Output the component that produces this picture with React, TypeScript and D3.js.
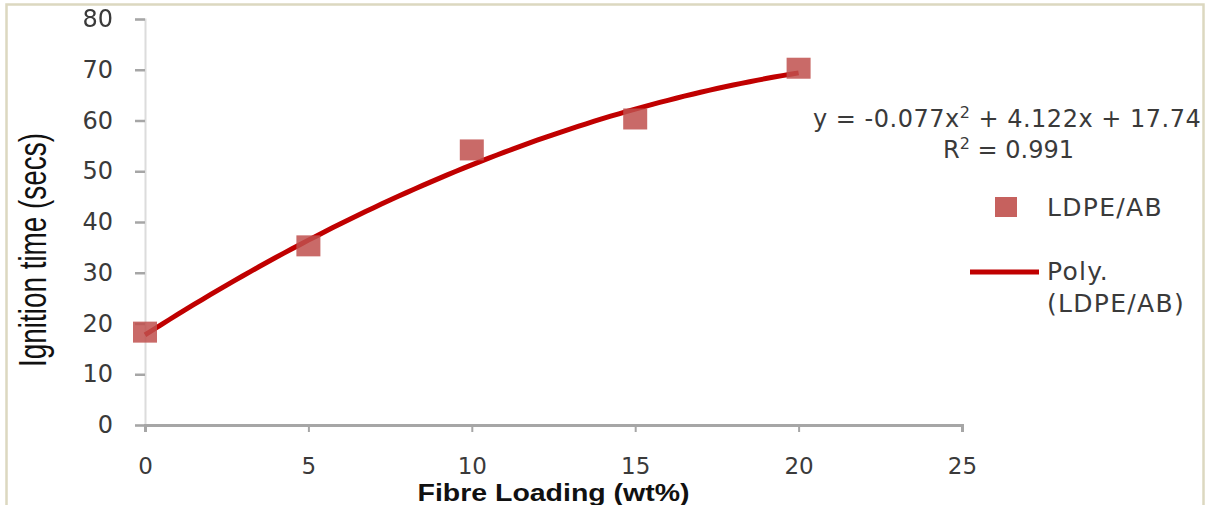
import React, { useEffect, useRef } from "react";
import * as d3 from "d3";

const fibreLoading = [0, 5, 10, 15, 20];
const ignitionTime = [18.3, 35.3, 54.2, 60.3, 70.3];
const polyCoeffs = [17.74, 4.122, -0.077];
const xTicks = [0, 5, 10, 15, 20, 25];
const yTicks = [0, 10, 20, 30, 40, 50, 60, 70, 80];
const seriesName = "LDPE/AB";

const W = 1209;
const H = 505;

const App = () => {
  const ref = useRef<SVGSVGElement>(null);

  useEffect(() => {
    const svg = d3.select(ref.current);
    svg.selectAll("*").remove();

    const x = d3.scaleLinear().domain([0, 25]).range([145, 962]);
    const y = d3.scaleLinear().domain([0, 80]).range([425, 19]);
    const font = "'DejaVu Sans', Verdana, sans-serif";
    const txt = "#3a3a3a";

    svg.append("rect")
      .attr("x", 6.5).attr("y", 4.5)
      .attr("width", 1197).attr("height", 520)
      .attr("fill", "#fff").attr("stroke", "#dcd8c0").attr("stroke-width", 2.5);

    // y axis
    const yAxis = svg.append("g").attr("transform", `translate(${x(0)},0)`)
      .call(d3.axisLeft(y).tickValues(yTicks).tickSize(10).tickPadding(22));
    yAxis.select(".domain").attr("stroke", "#dcdcdc").attr("stroke-width", 2);
    yAxis.selectAll(".tick line").attr("stroke", "#a6a6a6").attr("stroke-width", 2.5);
    yAxis.selectAll("text").attr("fill", txt).style("font-family", font).style("font-size", "24px");

    // x axis
    const xAxis = svg.append("g").attr("transform", `translate(0,${y(0)})`)
      .call(d3.axisBottom(x).tickValues(xTicks).tickSize(7).tickPadding(26));
    xAxis.select(".domain").attr("stroke", "#a6a6a6").attr("stroke-width", 3);
    xAxis.selectAll(".tick line").attr("stroke", "#a6a6a6").attr("stroke-width", 2);
    xAxis.selectAll("text").attr("fill", txt).style("font-family", font).style("font-size", "23px");

    // trendline
    const poly = (v: number) => polyCoeffs[0] + polyCoeffs[1] * v + polyCoeffs[2] * v * v;
    const xs = d3.range(0, 20.01, 0.25);
    svg.append("path")
      .attr("d", d3.line<number>().x((d) => x(d)).y((d) => y(poly(d)))(xs))
      .attr("fill", "none").attr("stroke", "#c00000").attr("stroke-width", 5);

    // markers
    const mw = 24;
    const mh = 21;
    svg.selectAll(".pt").data(fibreLoading).enter().append("rect")
      .attr("class", "pt")
      .attr("x", (d) => x(d) - mw / 2)
      .attr("y", (d, i) => y(ignitionTime[i]) - mh / 2)
      .attr("width", mw).attr("height", mh)
      .attr("fill", "#c0504d").attr("fill-opacity", 0.85);

    // axis titles
    svg.append("text")
      .attr("x", (x(0) + x(25)) / 2).attr("y", 501)
      .attr("text-anchor", "middle")
      .attr("textLength", 272).attr("lengthAdjust", "spacingAndGlyphs")
      .style("font-family", "'Liberation Sans', Arial, sans-serif")
      .style("font-size", "24px").style("font-weight", "bold")
      .attr("fill", "#111")
      .text("Fibre Loading (wt%)");
    svg.append("text")
      .attr("transform", "translate(46,250) rotate(-90)")
      .attr("text-anchor", "middle")
      .attr("textLength", 234).attr("lengthAdjust", "spacingAndGlyphs")
      .style("font-family", "'Liberation Sans', Arial, sans-serif")
      .style("font-size", "38px")
      .attr("fill", "#111")
      .text("Ignition time (secs)");

    // equation
    svg.append("text")
      .attr("x", 813).attr("y", 127)
      .style("font-family", font).style("font-size", "24px").style("letter-spacing", "0.5px")
      .attr("fill", txt)
      .html("y = -0.077x<tspan dy='-9' font-size='16'>2</tspan><tspan dy='9'> + 4.122x + 17.74</tspan>");
    svg.append("text")
      .attr("x", 943).attr("y", 158)
      .style("font-family", font).style("font-size", "24px")
      .attr("fill", txt)
      .html("R<tspan dy='-9' font-size='16'>2</tspan><tspan dy='9'> = 0.991</tspan>");

    // legend
    svg.append("rect").attr("x", 995).attr("y", 197).attr("width", 22).attr("height", 20)
      .attr("fill", "#c0504d").attr("fill-opacity", 0.9);
    const legText = (yy: number, s: string) =>
      svg.append("text").attr("x", 1047).attr("y", yy)
        .style("font-family", font).style("font-size", "25px").style("letter-spacing", "1.3px")
        .attr("fill", txt).text(s);
    legText(216, seriesName);
    svg.append("line").attr("x1", 970).attr("x2", 1039).attr("y1", 272).attr("y2", 272)
      .attr("stroke", "#c00000").attr("stroke-width", 5);
    legText(280, "Poly.");
    legText(312, `(${seriesName})`);
  }, []);

  return (
    <div style={{ position: "fixed", left: 0, top: 0 }}>
      <svg ref={ref} width={W} height={H}></svg>
    </div>
  );
};

export default App;
